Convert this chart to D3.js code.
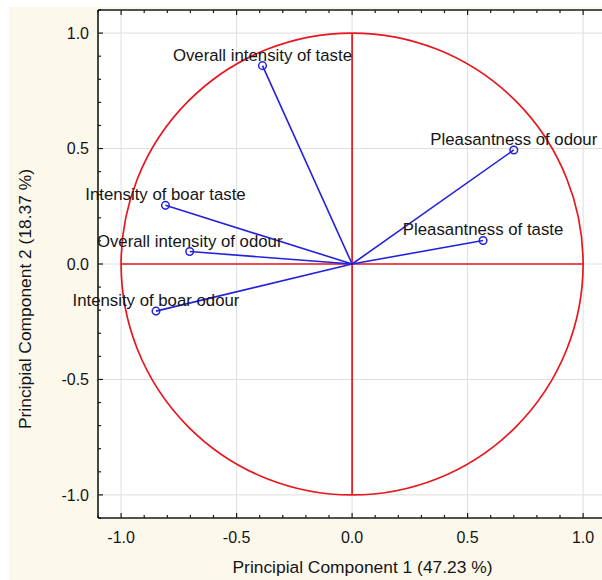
<!DOCTYPE html>
<html>
<head>
<meta charset="utf-8">
<script src="https://cdn.jsdelivr.net/npm/d3@7"></script>
<style>
html,body{margin:0;padding:0;background:#ffffff;}
svg{display:block;}
text{font-family:"Liberation Sans",Arial,sans-serif;fill:#151515;}
</style>
</head>
<body>
<svg id="chart" width="602" height="580"></svg>
<script>
// ---- data ----
const variables = ["Overall intensity of taste", "Pleasantness of odour", "Pleasantness of taste",
                   "Intensity of boar taste", "Overall intensity of odour", "Intensity of boar odour"];
const pc1 = [-0.388, 0.700, 0.567, -0.808, -0.703, -0.849];
const pc2 = [0.859, 0.494, 0.102, 0.254, 0.054, -0.204];
const majorTicks = [-1.0, -0.5, 0.0, 0.5, 1.0];
const tickLabels = ["-1.0", "-0.5", "0.0", "0.5", "1.0"];
const xTitle = "Principial Component 1 (47.23 %)";
const yTitle = "Principial Component 2 (18.37 %)";

const W = 602, H = 580;
const pLeft = 98, pTop = 10, pBottom = 518, pRight = 606.2;
const svg = d3.select("#chart");

// background
svg.append("rect").attr("x", 9).attr("y", 7).attr("width", W - 9).attr("height", H - 7).attr("fill", "#fcf8ec");

const x = d3.scaleLinear().domain([-1.1, 1.1]).range([pLeft, pRight]);
const y = d3.scaleLinear().domain([-1.1, 1.1]).range([pBottom, pTop]);

svg.append("defs").append("clipPath").attr("id", "clip")
  .append("rect").attr("x", pLeft).attr("y", pTop).attr("width", pRight - pLeft).attr("height", pBottom - pTop);

const plot = svg.append("g").attr("clip-path", "url(#clip)");
plot.append("rect").attr("x", pLeft).attr("y", pTop).attr("width", pRight - pLeft).attr("height", pBottom - pTop).attr("fill", "#ffffff");

// grid
plot.selectAll(".gx").data(majorTicks).enter().append("line")
  .attr("x1", d => x(d)).attr("x2", d => x(d)).attr("y1", pTop).attr("y2", pBottom)
  .attr("stroke", "#dedede").attr("stroke-width", 1);
plot.selectAll(".gy").data(majorTicks).enter().append("line")
  .attr("y1", d => y(d)).attr("y2", d => y(d)).attr("x1", pLeft).attr("x2", pRight)
  .attr("stroke", "#dedede").attr("stroke-width", 1);

// unit circle and axes lines
const red = "#e8161e";
plot.append("ellipse").attr("cx", x(0)).attr("cy", y(0))
  .attr("rx", x(1) - x(0)).attr("ry", y(0) - y(1))
  .attr("fill", "none").attr("stroke", red).attr("stroke-width", 1.7);
plot.append("line").attr("x1", x(-1)).attr("x2", x(1)).attr("y1", y(0)).attr("y2", y(0))
  .attr("stroke", red).attr("stroke-width", 1.7);
plot.append("line").attr("x1", x(0)).attr("x2", x(0)).attr("y1", y(-1)).attr("y2", y(1))
  .attr("stroke", red).attr("stroke-width", 1.7);

// vectors
const blue = "#2222dd";
const pts = variables.map((v, i) => ({name: v, a: pc1[i], b: pc2[i]}));
plot.selectAll(".vec").data(pts).enter().append("line")
  .attr("x1", x(0)).attr("y1", y(0)).attr("x2", d => x(d.a)).attr("y2", d => y(d.b))
  .attr("stroke", blue).attr("stroke-width", 1.6);
plot.selectAll(".pt").data(pts).enter().append("circle")
  .attr("cx", d => x(d.a)).attr("cy", d => y(d.b)).attr("r", 3.8)
  .attr("fill", "none").attr("stroke", blue).attr("stroke-width", 1.5);

// frame
const frame = svg.append("g").attr("stroke", "#1a1a1a").attr("stroke-width", 1.6);
frame.append("line").attr("x1", pLeft).attr("x2", pLeft).attr("y1", pTop).attr("y2", pBottom);
frame.append("line").attr("x1", pLeft).attr("x2", W).attr("y1", pTop).attr("y2", pTop);
frame.append("line").attr("x1", pLeft).attr("x2", W).attr("y1", pBottom).attr("y2", pBottom);

// ticks (inward): minor 0.1, major 0.5
const minor = d3.range(-11, 12).map(i => i / 10);
const isMajor = d => Math.abs(Math.round(d * 2) - d * 2) < 1e-6;
const tg = svg.append("g").attr("stroke", "#1a1a1a").attr("stroke-width", 1.2);
minor.forEach(d => {
  const len = isMajor(d) ? 5 : 3;
  const xp = x(d), yp = y(d);
  if (xp >= pLeft && xp <= W) {
    tg.append("line").attr("x1", xp).attr("x2", xp).attr("y1", pBottom).attr("y2", pBottom - len);
    tg.append("line").attr("x1", xp).attr("x2", xp).attr("y1", pTop).attr("y2", pTop + len);
  }
  if (yp >= pTop && yp <= pBottom) {
    tg.append("line").attr("x1", pLeft).attr("x2", pLeft + len).attr("y1", yp).attr("y2", yp);
  }
});

// variable labels (not clipped, they extend past the left axis)
svg.selectAll(".lbl").data(pts).enter().append("text")
  .attr("x", d => x(d.a)).attr("y", d => y(d.b) - 5)
  .attr("text-anchor", "middle").attr("font-size", "16.8px")
  .text(d => d.name);

// tick labels
svg.selectAll(".xt").data(majorTicks).enter().append("text")
  .attr("x", d => x(d)).attr("y", 542.5).attr("text-anchor", "middle").attr("font-size", "16px")
  .text((d, i) => tickLabels[i]);
svg.selectAll(".yt").data(majorTicks).enter().append("text")
  .attr("x", 89).attr("y", d => y(d)).attr("dy", "0.36em").attr("text-anchor", "end").attr("font-size", "16px")
  .text((d, i) => tickLabels[i]);

// titles
svg.append("text").attr("x", 362.5).attr("y", 573).attr("text-anchor", "middle").attr("font-size", "17.4px").text(xTitle);
svg.append("text").attr("transform", "translate(31,299) rotate(-90)").attr("text-anchor", "middle").attr("font-size", "17.4px").text(yTitle);
</script>
</body>
</html>
